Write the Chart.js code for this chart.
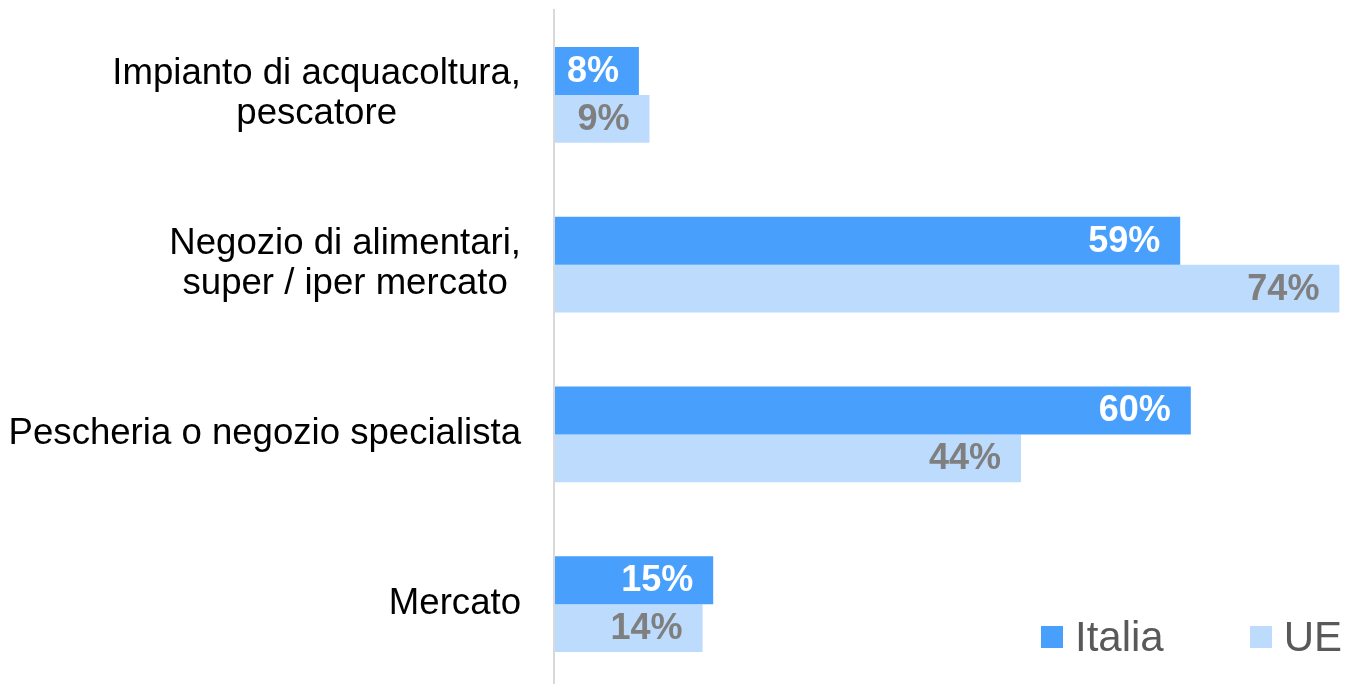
<!DOCTYPE html>
<html>
<head>
<meta charset="utf-8">
<script src="https://cdn.jsdelivr.net/npm/chart.js@4/dist/chart.umd.min.js"></script>
<style>
  html, body { margin: 0; padding: 0; background: #fff; overflow: hidden; }
  #contenitore { position: relative; width: 1357px; height: 689px; }
  #legenda {
    position: absolute; left: 1041px; top: 613px;
    display: flex; align-items: center;
    font: 42px "Liberation Sans", Arial, sans-serif; line-height: 48px; color: #595959;
  }
  #legenda .voce { display: flex; align-items: center; }
  #legenda .voce + .voce { margin-left: 86px; }
  #legenda .quadrato { width: 22px; height: 22px; margin-right: 12px; }
</style>
</head>
<body>
<div id="contenitore">
  <canvas id="grafico" width="1357" height="689"></canvas>
  <div id="legenda"></div>
</div>
<script>
"use strict";
//Dati
const categorie = [
  ["Impianto di acquacoltura,", "pescatore"],
  ["Negozio di alimentari,", "super / iper mercato"],
  "Pescheria o negozio specialista",
  "Mercato",
];
const valoriItalia = [8, 59, 60, 15];
const valoriUE = [9, 74, 44, 14];
const nomiSerie = ["Italia", "UE"];
const coloriSerie = ["#49a0fc", "#bddbfd"];
const coloriEtichette = ["#ffffff", "#7f7f7f"];

const fonte = '"Liberation Sans", Arial, sans-serif';
Chart.defaults.font.family = fonte;

//Etichette dell'asse y: blocco allineato a destra, righe centrate
const etichetteAsse = {
  id: 'etichetteAsse',
  afterDraw(chart) {
    const ctx = chart.ctx;
    const scala = chart.scales.y;
    const interlinea = 40;
    ctx.save();
    ctx.font = '36.6px ' + fonte;
    ctx.fillStyle = '#000000';
    ctx.textAlign = 'center';
    ctx.textBaseline = 'middle';
    categorie.forEach((cat, i) => {
      const righe = Array.isArray(cat) ? cat : [cat];
      const larghezza = Math.max(...righe.map(r => ctx.measureText(r).width));
      const cx = scala.right - 33 - larghezza / 2;
      let y = scala.getPixelForTick(i) - (righe.length - 1) * interlinea / 2;
      if (righe.length > 1) y -= 1;
      righe.forEach((r, j) => ctx.fillText(r, cx, y + j * interlinea));
    });
    ctx.restore();
  }
};

//Valori dentro le barre
const etichetteValori = {
  id: 'etichetteValori',
  afterDatasetsDraw(chart) {
    const ctx = chart.ctx;
    ctx.save();
    ctx.font = 'bold 36px ' + fonte;
    ctx.textAlign = 'right';
    ctx.textBaseline = 'middle';
    chart.data.datasets.forEach((ds, i) => {
      ctx.fillStyle = coloriEtichette[i];
      chart.getDatasetMeta(i).data.forEach((barra, j) => {
        ctx.fillText(ds.data[j] + '%', barra.x - 20, barra.y + 1);
      });
    });
    ctx.restore();
  }
};

const grafico = new Chart(document.getElementById('grafico'), {
  type: 'bar',
  data: {
    labels: categorie,
    datasets: [
      { label: nomiSerie[0], data: valoriItalia, backgroundColor: coloriSerie[0] },
      { label: nomiSerie[1], data: valoriUE, backgroundColor: coloriSerie[1] },
    ],
  },
  options: {
    indexAxis: 'y',
    responsive: false,
    animation: false,
    categoryPercentage: 0.5655,
    barPercentage: 1,
    layout: { padding: { top: 10, right: 7, bottom: 0, left: 0 } },
    plugins: {
      legend: { display: false },
      tooltip: { enabled: false },
    },
    scales: {
      x: { display: false, min: 0, max: 75 },
      y: {
        grid: { display: false },
        ticks: { display: false },
        border: { display: true, color: '#d9d9d9', width: 2, z: 1 },
        afterFit: (s) => { s.width = 554; },
      },
    },
  },
  plugins: [etichetteAsse, etichetteValori],
});

//Legenda
const legenda = document.getElementById('legenda');
nomiSerie.forEach((nome, i) => {
  const voce = document.createElement('div');
  voce.className = 'voce';
  const quadrato = document.createElement('span');
  quadrato.className = 'quadrato';
  quadrato.style.background = coloriSerie[i];
  const testo = document.createElement('span');
  testo.textContent = nome;
  voce.appendChild(quadrato);
  voce.appendChild(testo);
  legenda.appendChild(voce);
});
</script>
</body>
</html>
